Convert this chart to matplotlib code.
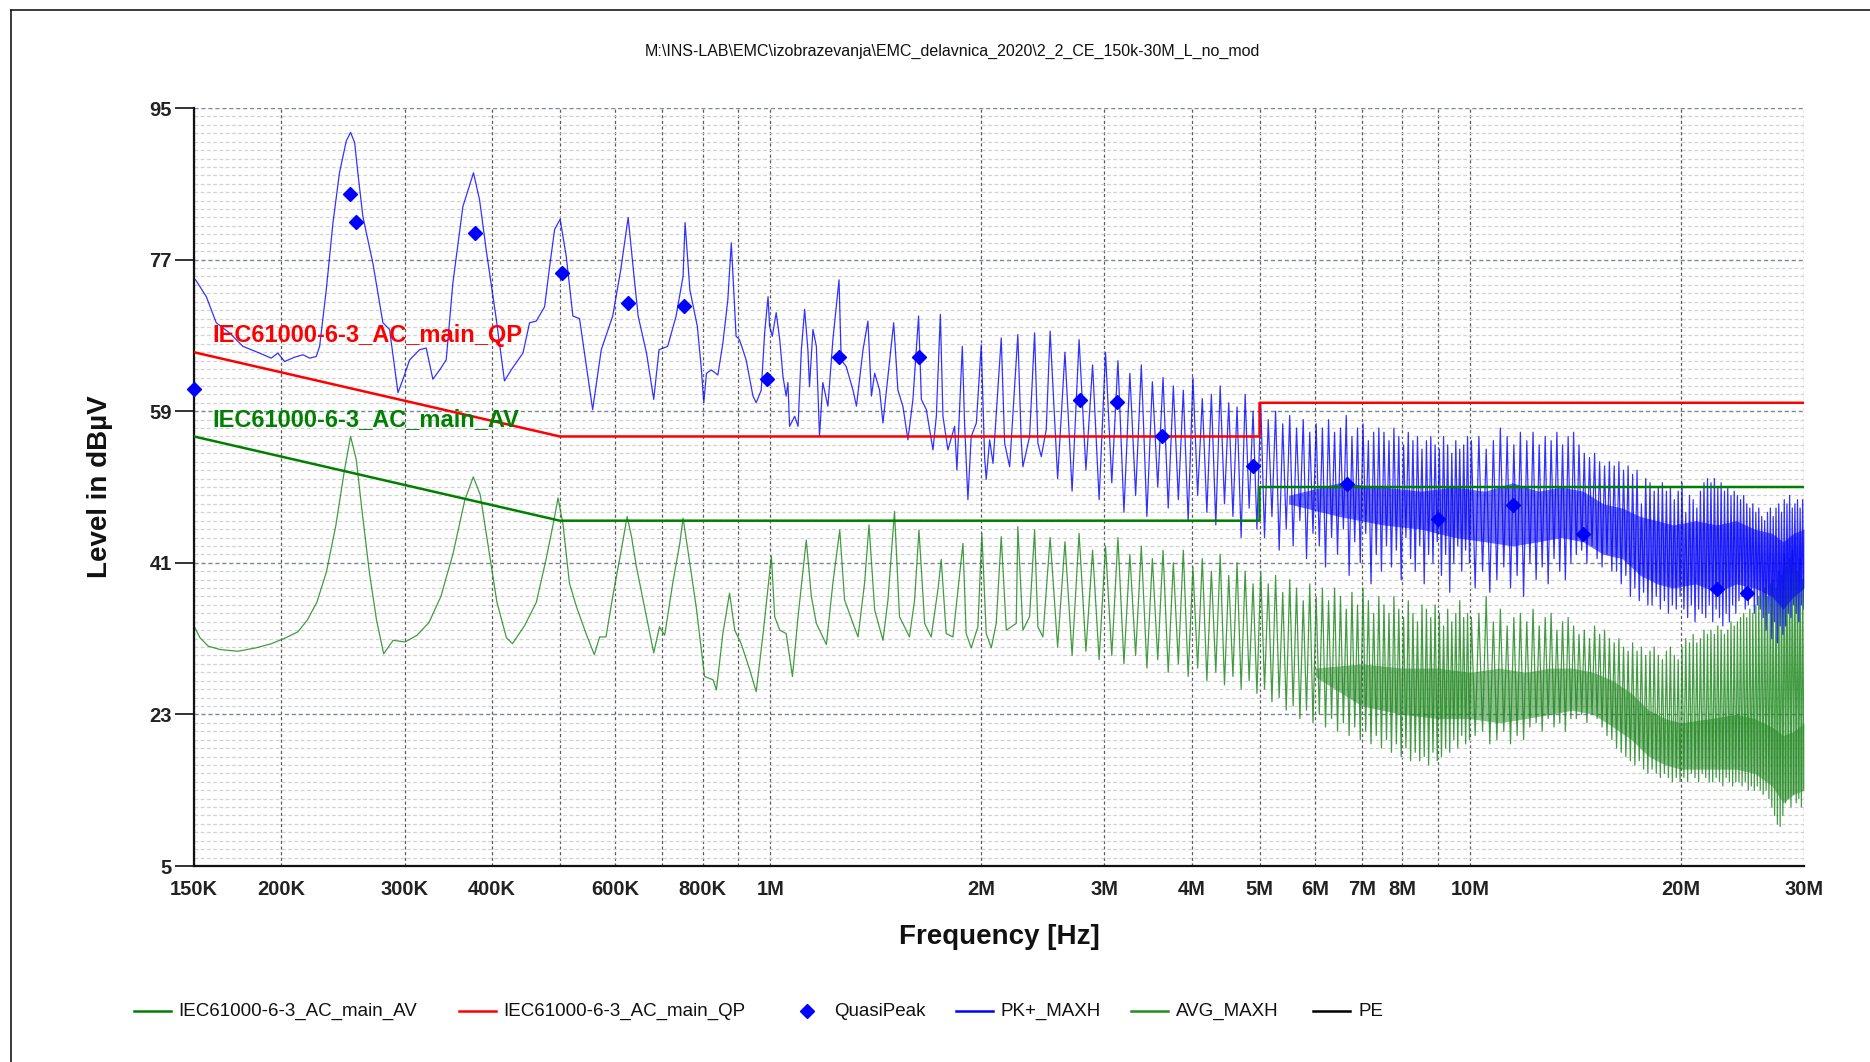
import numpy as np
import matplotlib
matplotlib.use("Agg")
import matplotlib.pyplot as plt
from matplotlib.lines import Line2D
from matplotlib.ticker import FixedLocator, MultipleLocator, NullFormatter
from matplotlib import font_manager

# ---------------------------------------------------------------- data
TITLE = "M:\\INS-LAB\\EMC\\izobrazevanja\\EMC_delavnica_2020\\2_2_CE_150k-30M_L_no_mod"

# limit lines (frequency in MHz, level in dBuV)
qp_limit_f = [0.15, 0.5, 5.0, 5.0, 30.0]
qp_limit_db = [66, 56, 56, 60, 60]
av_limit_f = [0.15, 0.5, 5.0, 5.0, 30.0]
av_limit_db = [56, 46, 46, 50, 50]

# quasi-peak final measurements
qp_f = [0.150, 0.251, 0.256, 0.378, 0.503, 0.626, 0.753, 0.990, 1.254, 1.632,
        2.77, 3.13, 3.63, 4.90, 6.66, 9.0, 11.5, 14.5, 22.5, 24.9]
qp_db = [61.6, 84.8, 81.5, 80.1, 75.4, 71.9, 71.5, 62.8, 65.4, 65.4,
         60.3, 60.1, 56.0, 52.5, 50.4, 46.2, 47.9, 44.4, 37.9, 37.4]

# PK+ max-hold sweep, 150 kHz .. 2.5 MHz
pk_f = [0.1508, 0.1562, 0.1614, 0.1686, 0.1762, 0.1861, 0.1934, 0.1977, 0.2021, 0.2086,
        0.2147, 0.2195, 0.2243, 0.2268, 0.2318, 0.2370, 0.2421, 0.2476, 0.2511, 0.2545,
        0.2572, 0.2615, 0.2702, 0.2793, 0.2855, 0.2935, 0.2984, 0.3050, 0.3152, 0.3221,
        0.3292, 0.3367, 0.3440, 0.3516, 0.3634, 0.3763, 0.3839, 0.3923, 0.4055, 0.4167,
        0.4260, 0.4428, 0.4526, 0.4627, 0.4755, 0.4835, 0.4915, 0.5005, 0.5106, 0.5219,
        0.5334, 0.557, 0.573, 0.595, 0.611, 0.626, 0.639, 0.647, 0.665, 0.681,
        0.693, 0.713, 0.733, 0.750, 0.755, 0.767, 0.786, 0.796, 0.803, 0.810,
        0.823, 0.841, 0.855, 0.869, 0.879, 0.893, 0.903, 0.923, 0.944, 0.954,
        0.970, 0.981, 0.992, 0.997, 1.006, 1.019, 1.031, 1.042, 1.053, 1.059,
        1.065, 1.083, 1.095, 1.107, 1.119, 1.131, 1.137, 1.150, 1.163, 1.175,
        1.188, 1.208, 1.228, 1.253, 1.262, 1.283, 1.312, 1.327, 1.356, 1.378,
        1.394, 1.409, 1.432, 1.448, 1.500, 1.521, 1.546, 1.572, 1.598, 1.628,
        1.643, 1.670, 1.707, 1.726, 1.749, 1.764, 1.793, 1.833, 1.847, 1.880,
        1.894, 1.915, 1.936, 1.969, 2.001, 2.023, 2.034, 2.057, 2.080, 2.137,
        2.161, 2.197, 2.257, 2.282, 2.295, 2.346, 2.385, 2.411, 2.438, 2.478]
pk_db = [74.6, 72.6, 69.5, 68.3, 66.7, 65.9, 65.3, 65.9, 64.9, 65.4,
         65.7, 65.3, 65.5, 66.7, 73.4, 81.4, 87.3, 91.1, 92.1, 90.9,
         87.3, 82.1, 76.6, 69.5, 68.7, 61.2, 62.8, 65.1, 66.3, 66.5,
         62.8, 63.9, 65.1, 74.2, 83.3, 87.3, 84.1, 78.2, 70.0, 62.6,
         63.9, 65.9, 69.5, 69.7, 71.4, 76.2, 80.6, 81.8, 77.4, 70.3,
         70.0, 59.2, 66.3, 70.3, 75.8, 82.0, 74.6, 70.3, 65.9, 60.4,
         66.3, 66.7, 70.3, 75.0, 81.4, 73.4, 69.1, 64.3, 60.0, 63.5,
         63.9, 63.3, 67.1, 72.2, 79.0, 67.9, 67.5, 65.1, 60.8, 60.0,
         61.5, 68.3, 72.6, 69.1, 67.9, 70.7, 67.5, 63.1, 60.8, 62.4,
         57.2, 58.4, 57.2, 66.3, 71.1, 66.3, 61.9, 68.7, 66.7, 56.0,
         62.4, 59.6, 67.5, 74.6, 65.1, 64.3, 61.5, 59.6, 66.3, 69.7,
         60.8, 63.5, 61.5, 57.6, 69.5, 61.5, 59.6, 55.6, 60.4, 70.3,
         60.4, 59.2, 54.4, 58.4, 70.5, 58.4, 54.4, 57.2, 52.0, 66.7,
         57.6, 48.5, 56.0, 57.6, 66.9, 53.6, 50.9, 55.6, 52.8, 67.7,
         55.2, 52.4, 68.1, 55.6, 52.4, 56.0, 68.3, 55.2, 53.6, 56.8]

# AVG max-hold sweep, 150 kHz .. 2.5 MHz
avg_f = [0.1500, 0.1530, 0.1572, 0.1635, 0.1734, 0.1839, 0.1936, 0.2029, 0.2111, 0.2178,
         0.2247, 0.2319, 0.2393, 0.2460, 0.2511, 0.2558, 0.2609, 0.2671, 0.2735, 0.2800,
         0.2889, 0.3005, 0.3125, 0.3250, 0.3380, 0.3516, 0.3656, 0.3760, 0.3847, 0.3954,
         0.4065, 0.4194, 0.4278, 0.4449, 0.4627, 0.4775, 0.4889, 0.4970, 0.505, 0.516,
         0.528, 0.545, 0.560, 0.570, 0.582, 0.595, 0.612, 0.624, 0.633, 0.643,
         0.665, 0.681, 0.694, 0.706, 0.725, 0.742, 0.750, 0.762, 0.783, 0.805,
         0.828, 0.837, 0.855, 0.874, 0.889, 0.908, 0.934, 0.954, 0.976, 1.003,
         1.014, 1.031, 1.053, 1.075, 1.095, 1.125, 1.144, 1.163, 1.202, 1.228,
         1.256, 1.276, 1.312, 1.334, 1.363, 1.383, 1.409, 1.448, 1.472, 1.504,
         1.529, 1.580, 1.607, 1.630, 1.661, 1.697, 1.735, 1.754, 1.783, 1.823,
         1.884, 1.904, 1.936, 1.979, 2.005, 2.034, 2.068, 2.102, 2.137, 2.173,
         2.245, 2.257, 2.295, 2.346, 2.385, 2.411, 2.451]
avg_db = [33.5, 32.1, 31.1, 30.7, 30.5, 30.9, 31.4, 32.1, 32.8, 34.2,
          36.3, 39.9, 45.5, 51.9, 56.0, 53.3, 47.0, 39.9, 34.2, 30.2,
          31.8, 31.6, 32.4, 33.9, 37.0, 42.0, 48.4, 51.2, 49.1, 42.7,
          36.3, 32.1, 31.4, 33.5, 36.3, 41.3, 45.5, 48.7, 45.7, 38.6,
          35.8, 32.6, 30.1, 32.2, 32.2, 37.0, 42.5, 46.5, 44.1, 40.6,
          34.6, 30.3, 33.4, 32.4, 38.6, 43.3, 46.3, 42.5, 35.8, 27.5,
          27.1, 25.9, 32.6, 37.4, 33.0, 31.4, 28.3, 25.7, 32.6, 41.8,
          34.6, 33.0, 32.6, 27.5, 34.6, 43.7, 37.0, 33.8, 31.3, 38.6,
          44.9, 36.6, 33.8, 32.2, 38.6, 45.5, 35.4, 31.8, 36.6, 47.1,
          34.6, 32.2, 36.6, 44.9, 33.8, 32.2, 37.8, 41.4, 32.6, 32.2,
          43.3, 32.6, 30.9, 33.4, 44.5, 32.6, 30.9, 33.8, 44.1, 33.0,
          33.8, 45.3, 33.0, 34.6, 44.9, 33.4, 32.2]

# harmonic comb above 2.5 MHz: spacing of the switching harmonics
F0 = 0.1255  # MHz
harm_a = list(range(20, 80))          # 2.5 .. 10 MHz, every harmonic
harm_b = list(range(80, 240, 2))      # 10 .. 30 MHz, every second harmonic

pk_top_a = [68.5, 66, 67.5, 64.5, 66, 65, 63.5, 64.5, 62.5, 63,
            62, 61.5, 63, 60.5, 61, 62, 60, 59.5, 61, 59,
            60, 58, 59, 57.5, 58.5, 57, 58, 56.5, 57.5, 57,
            58, 56.5, 57, 58.5, 56, 57, 57.5, 55.5, 56.5, 57,
            56.5, 55.5, 57, 56, 55, 56.5, 55.5, 56, 54.5, 55.5,
            56, 55, 54.5, 56, 55, 54, 55.5, 54.5, 55, 56]
pk_low_a = [51, 49.5, 52, 48.5, 50.5, 47, 49, 46.5, 50, 47.5,
            48.5, 46, 49, 47, 45.5, 48, 46.5, 44, 47.5, 45,
            44, 46.5, 42.5, 45, 43, 46, 41.5, 44.5, 43, 40.5,
            44, 42, 45, 39.5, 43.5, 41, 44.5, 38.5, 42, 40,
            43, 40.5, 42.5, 39, 44, 41.5, 40, 43, 38.5, 42,
            41, 43.5, 39.5, 42, 37.5, 41, 43, 40, 42.5, 41]
pk_top_b = [55.5, 56, 54.5, 55.5, 57, 56, 55, 56.5,
            55.5, 56.5, 55, 56, 55.5, 56.5, 55, 56,
            56.5, 55, 54, 53.5, 54, 53, 52.5, 53,
            52.5, 53, 52, 52.5, 51.5, 52, 48, 51,
            50.5, 49.5, 50, 50.5, 49.5, 50, 48.5, 49.5,
            50.5, 47, 49, 48.5, 47.5, 49.5, 50.5, 51,
            50.5, 51, 50, 50.5, 49.5, 50, 49, 49.5,
            49, 48.5, 49, 48, 47.5, 48, 47, 47.5,
            46.5, 46, 47, 47.5, 46.5, 47.5, 48, 47,
            48.5, 48, 49, 47.5, 48, 48.5, 47.5, 48.5]
pk_low_b = [38, 40, 37.5, 39, 40.5, 38, 39.5, 37,
            41, 39, 40.5, 38.5, 41.5, 40, 39, 41,
            42, 42.5, 41, 43, 41.5, 40.5, 42, 40,
            40, 38.5, 39.5, 37, 38, 36.5, 37.5, 36,
            36, 37, 35.5, 36.5, 35, 36, 35.5, 37,
            35.5, 34.5, 36, 34, 35.5, 35, 34.5, 36,
            34, 35.5, 34.5, 33.5, 35, 34, 36, 35,
            36.5, 37, 35.5, 36, 37, 35, 36, 35.5,
            34.5, 33, 35, 32, 34, 31.5, 33.5, 32.5,
            33.5, 35, 34.5, 36, 35, 34, 36, 35.5]

avg_top_a = [44, 43.5, 44.5, 42.5, 43, 44, 42, 43, 41.5, 42.5,
             41, 42.5, 40.5, 41.5, 40, 42, 39.5, 41, 40, 38.5,
             40, 38.5, 39.5, 37.5, 39, 38, 36.5, 38.5, 37, 38,
             36.5, 38, 37, 35.5, 37.5, 36, 38, 36.5, 35, 37,
             36, 35, 37, 35.5, 34.5, 36.5, 35, 34, 36, 35.5,
             34.5, 36, 35, 33.5, 35.5, 34, 35, 36.5, 34.5, 35]
avg_low_a = [31, 30, 30.5, 29.5, 30, 29, 30, 28.5, 29.5, 28,
             29, 27.5, 28.5, 27, 28, 26.5, 27.5, 26, 27, 25.5,
             26, 24.5, 25, 23.5, 24, 22.5, 23.5, 22, 23, 21.5,
             22.5, 21, 22, 20.5, 21.5, 20, 21, 19.5, 20.5, 19,
             20, 18.5, 19.5, 18, 19, 17.5, 18.5, 17.5, 18, 17,
             18.5, 17.5, 18, 19, 18.5, 20, 19, 20.5, 19.5, 20]
avg_top_b = [34.5, 35, 37, 34, 35.5, 33.5, 34.5, 35,
             34, 35.5, 33.5, 34.5, 35, 33, 34, 34.5,
             33.5, 32.5, 33, 32, 33.5, 32.5, 33, 32,
             31.5, 32, 31, 30.5, 31.5, 30.5, 31, 30,
             30.5, 31, 30, 29.5, 30.5, 31, 30, 29.5,
             31, 32, 31.5, 32.5, 31.5, 32, 33, 32.5,
             33, 32.5, 33.5, 33, 32.5, 33, 34, 33.5,
             34, 34.5, 35, 34.5, 35.5, 35, 36, 37,
             37.5, 38, 37, 38.5, 39, 38, 40, 39.5,
             42, 40.5, 41.5, 42.5, 41, 40, 41.5, 39]
avg_low_b = [20.5, 21, 19.5, 20, 21, 19.5, 20.5, 20,
             21.5, 22, 21, 22.5, 21.5, 22, 21, 22.5,
             22.5, 23, 22, 23, 22.5, 21.5, 20.5, 20,
             19, 18.5, 18, 17.5, 17, 17.5, 16.5, 16,
             16.5, 16, 15.5, 16, 15.5, 15, 15.5, 15,
             15.5, 15, 16, 15.5, 15, 16, 15.5, 15,
             15, 15.5, 15, 14.5, 15.5, 15, 14.5, 15,
             15, 14.5, 15, 14, 14.5, 14, 14.5, 14,
             13.5, 14, 13, 12, 11, 10, 9.7, 11,
             12.5, 13, 12, 13.5, 12.5, 13, 12, 14]

# densely filled cores of the high-frequency traces
pk_core_f = [5.5, 6.5, 7.5, 8.5, 9.5, 10.5, 11.5, 12.5, 13.5, 14.5, 15.5, 16.5,
             17.5, 18.5, 19.5, 21.0, 22.5, 24.0, 25.5, 27.0, 28.0, 29.0, 30.0]
pk_core_hi = [49, 50.5, 50, 49.5, 50, 49.5, 50.5, 49.5, 50, 49.5, 48, 47.5,
              46.5, 46, 45.5, 46, 45.5, 46, 45, 44.5, 43.5, 44.5, 45]
pk_core_lo = [48, 46.5, 45.5, 45, 44, 43.5, 43, 43.5, 44, 43.5, 42, 41.5,
              39.5, 38.5, 38, 38.5, 37.5, 38.5, 38, 37, 35.5, 37, 38]
avg_core_f = [6.0, 7.0, 8.0, 9.0, 10.0, 11.0, 12.0, 13.0, 14.0, 15.0, 16.0, 17.0,
              18.0, 19.0, 20.0, 22.0, 24.0, 25.5, 27.0, 28.0, 29.0, 30.0]
avg_core_hi = [28.5, 29, 28.5, 28.5, 28, 28.5, 28, 28.5, 28.5, 28, 27, 25.5,
               23.5, 22.5, 22, 22.5, 23, 22.5, 21.5, 20.5, 21, 22]
avg_core_lo = [27.5, 24, 23, 22.5, 22.5, 22, 22.5, 23, 23.5, 23, 21.5, 20,
               18, 17, 16.5, 16.5, 16.5, 16, 14.5, 12.5, 13.5, 14]

y_ticks = [5, 23, 41, 59, 77, 95]
x_grid = [0.15, 0.2, 0.3, 0.4, 0.5, 0.6, 0.7, 0.8, 0.9, 1, 2, 3, 4, 5, 6, 7, 8, 9, 10, 20, 30]
x_labels = ["150K", "200K", "300K", "400K", "", "600K", "", "800K", "", "1M", "2M", "3M",
            "4M", "5M", "6M", "7M", "8M", "", "10M", "20M", "30M"]

# ---------------------------------------------------------------- helpers
def comb(harm, step, tops, lows):
    """Interleave peak and valley levels of a harmonic comb."""
    f, v = [], []
    for n, t, lo in zip(harm, tops, lows):
        f += [n * F0, (n + step / 2) * F0]
        v += [t, lo]
    return f, v


def full_trace(f_sweep, v_sweep, top_a, low_a, top_b, low_b):
    fa, va = comb(harm_a, 1, top_a, low_a)
    fb, vb = comb(harm_b, 2, top_b, low_b)
    f = np.array(list(f_sweep) + fa + fb)
    v = np.array(list(v_sweep) + va + vb)
    keep = f <= 30.0
    return f[keep], v[keep]


names = {f.name for f in font_manager.fontManager.ttflist}
NARROW = "Liberation Sans Narrow" if "Liberation Sans Narrow" in names else "Liberation Sans"
SANS = "Liberation Sans"

# ---------------------------------------------------------------- figure
W, H = 1870, 1062
fig = plt.figure(figsize=(W / 100, H / 100), dpi=100)
ax = fig.add_axes([194 / W, 1 - 866 / H, 1610 / W, 758 / H])

ax.set_xscale("log")
ax.set_xlim(0.15, 30)
ax.set_ylim(5, 95)

# grid
ax.yaxis.set_major_locator(FixedLocator(y_ticks))
ax.yaxis.set_minor_locator(MultipleLocator(1))
ax.xaxis.set_major_locator(FixedLocator(x_grid))
ax.xaxis.set_minor_locator(FixedLocator([]))
ax.xaxis.set_minor_formatter(NullFormatter())
ax.set_xticklabels(x_labels)
ax.set_yticklabels([str(t) for t in y_ticks])
ax.grid(which="minor", axis="y", color="#d2d2d2", ls=(0, (3, 2)), lw=0.9, zorder=0)
ax.grid(which="major", axis="y", color="#7c8795", ls=(0, (3, 2)), lw=1.0, zorder=0)
ax.grid(which="major", axis="x", color="#5a5a5a", ls=(0, (2.5, 2)), lw=0.9, zorder=0)
ax.set_axisbelow(True)

for side in ("top", "right"):
    ax.spines[side].set_visible(False)
for side in ("left", "bottom"):
    ax.spines[side].set_linewidth(1.6)
    ax.spines[side].set_color("#111111")

ax.tick_params(axis="x", which="both", length=0, pad=10)
ax.tick_params(axis="y", which="major", length=14, width=1.3, pad=2, color="#222222")
ax.tick_params(axis="y", which="minor", length=0)
for lab in ax.get_xticklabels() + ax.get_yticklabels():
    lab.set_fontfamily([NARROW, "DejaVu Sans"])
    lab.set_fontweight("bold")
    lab.set_fontsize(14.5)
    lab.set_color("#222222")

# traces
avg_tf, avg_tv = full_trace(avg_f, avg_db, avg_top_a, avg_low_a, avg_top_b, avg_low_b)
pk_tf, pk_tv = full_trace(pk_f, pk_db, pk_top_a, pk_low_a, pk_top_b, pk_low_b)

ax.fill_between(avg_core_f, avg_core_lo, avg_core_hi, color="#1f801f", alpha=0.5, lw=0, zorder=2)
ax.plot(avg_tf, avg_tv, color="#228b22", lw=0.9, alpha=0.85, zorder=2)
ax.fill_between(pk_core_f, pk_core_lo, pk_core_hi, color="#0000ee", alpha=0.55, lw=0, zorder=3)
ax.plot(pk_tf, pk_tv, color="#0000ff", lw=0.9, alpha=0.8, zorder=3)

# limits
ax.plot(av_limit_f, av_limit_db, color="#008000", lw=1.8, zorder=5)
ax.plot(qp_limit_f, qp_limit_db, color="#ff0000", lw=1.8, zorder=5)

# quasi-peak markers
ax.plot(qp_f, qp_db, ls="none", marker="D", ms=7.5, color="#0000ff", zorder=6, clip_on=False)

# limit names
ax.text(212 / W, 1 - 335 / H, "IEC61000-6-3_AC_main_QP", transform=fig.transFigure,
        color="#ff0000", fontsize=17, fontweight="bold", family=SANS,
        ha="left", va="center", zorder=7)
ax.text(212 / W, 1 - 420 / H, "IEC61000-6-3_AC_main_AV", transform=fig.transFigure,
        color="#008000", fontsize=17, fontweight="bold", family=SANS,
        ha="left", va="center", zorder=7)

# axis titles
fig.text(999 / W, 1 - 937 / H, "Frequency [Hz]", ha="center", va="center",
         fontsize=20, fontweight="bold", family=SANS, color="#111111")
fig.text(100 / W, 1 - 487 / H, "Level in dBµV", ha="center", va="center", rotation=90,
         fontsize=20, fontweight="bold", family=SANS, color="#111111")

# file path header
fig.text(952 / W, 1 - 51 / H, TITLE, ha="center", va="center", fontsize=11.5,
         family=[NARROW, "DejaVu Sans"], color="#111111")

# outer frame
fig.add_artist(Line2D([11 / W, 11 / W], [0, 1 - 10 / H], transform=fig.transFigure,
                      color="#1a1a1a", lw=1.2))
fig.add_artist(Line2D([11 / W, 1], [1 - 10 / H, 1 - 10 / H], transform=fig.transFigure,
                      color="#1a1a1a", lw=1.2))

# legend row
ly = 1 - 1011 / H
legend_items = [
    ("line", 134, 171, 178, "#008000", "IEC61000-6-3_AC_main_AV"),
    ("line", 459, 496, 503, "#ff0000", "IEC61000-6-3_AC_main_QP"),
    ("diamond", 807, 807, 834, "#0000ff", "QuasiPeak"),
    ("line", 956, 993, 1000, "#0000ff", "PK+_MAXH"),
    ("line", 1131, 1168, 1176, "#228b22", "AVG_MAXH"),
    ("line", 1313, 1350, 1358, "#000000", "PE"),
]
for kind, x0, x1, xt, col, label in legend_items:
    if kind == "line":
        fig.add_artist(Line2D([x0 / W, x1 / W], [ly, ly], transform=fig.transFigure,
                              color=col, lw=1.8))
    else:
        fig.add_artist(Line2D([x0 / W], [ly], transform=fig.transFigure, ls="none",
                              marker="D", ms=7, color=col))
    fig.text(xt / W, ly, label, ha="left", va="center", fontsize=13.5,
             family=SANS, color="#111111")

fig.savefig("out.png", dpi=100, facecolor="white")
